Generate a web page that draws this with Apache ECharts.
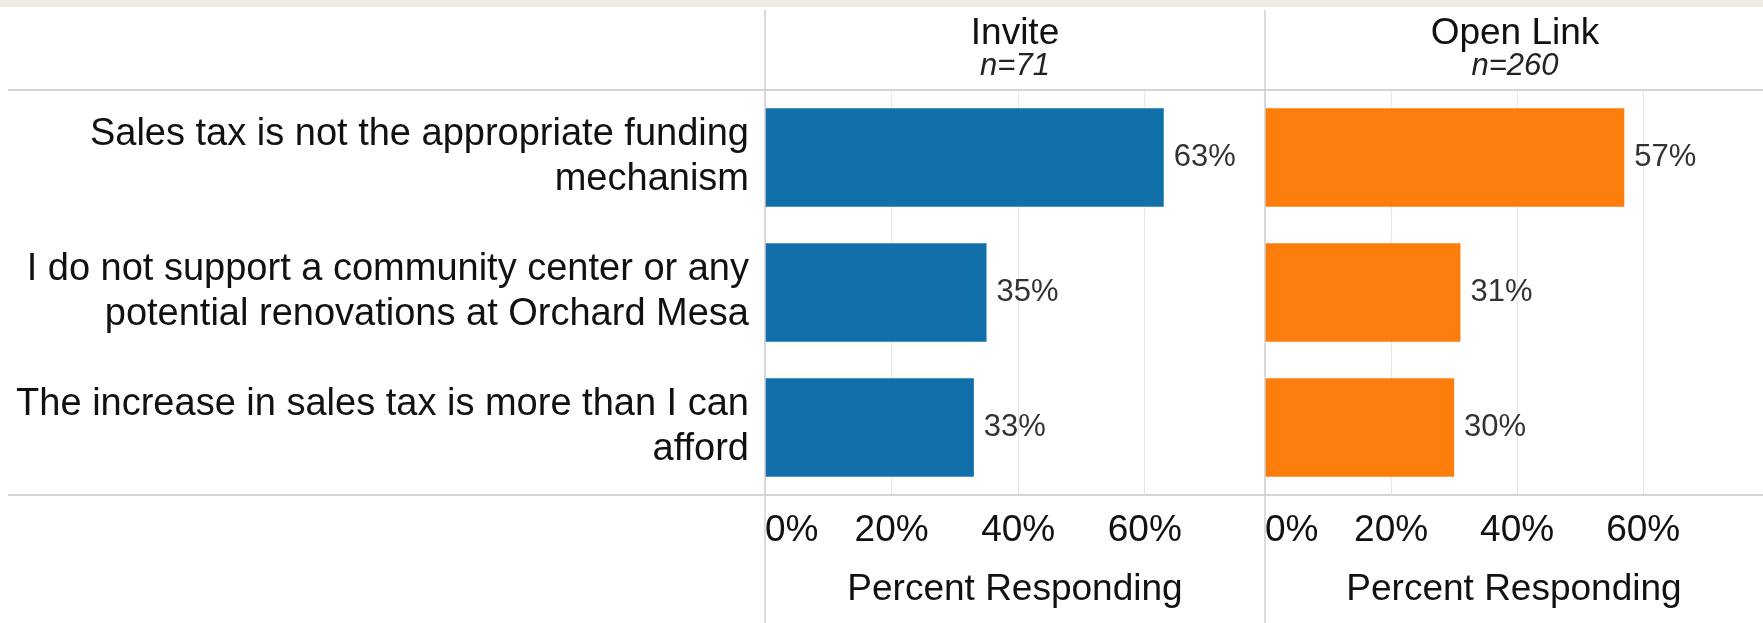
<!DOCTYPE html>
<html>
<head>
<meta charset="utf-8">
<script src="https://cdn.jsdelivr.net/npm/echarts@6/dist/echarts.min.js"></script>
<style>
html,body{margin:0;padding:0;background:#fff;}
#chart{width:1763px;height:623px;}
</style>
</head>
<body>
<div id="chart"></div>
<script>
const categories = [
  "Sales tax is not the appropriate funding\nmechanism",
  "I do not support a community center or any\npotential renovations at Orchard Mesa",
  "The increase in sales tax is more than I can\nafford"
];
const panelTitles = ["Invite", "Open Link"];
const panelN = ["n=71", "n=260"];
const inviteValues = [63, 35, 33];
const openLinkValues = [57, 31, 30];
const tickValues = [0, 20, 40, 60];
const axisTitle = "Percent Responding";

const FONT = "'Liberation Sans', Arial, sans-serif";
const chart = echarts.init(document.getElementById('chart'));

const panelLeft = [765, 1265];
const panelWidth = 500;
const plotTop = 90, plotHeight = 405;

function xAxisFor(i) {
  return {
    type: 'value', gridIndex: i, min: 0, max: 79, interval: 20,
    axisLine: {show: false}, axisTick: {show: false},
    splitLine: {show: true, lineStyle: {color: '#e6e6e6', width: 1}},
    axisLabel: {
      fontSize: 37, fontFamily: FONT, color: '#111', margin: 17,
      showMaxLabel: false, alignMinLabel: 'left',
      formatter: v => tickValues.indexOf(v) >= 0 ? v + '%' : ''
    },
    name: axisTitle, nameLocation: 'middle', nameGap: 76,
    nameTextStyle: {fontSize: 37, fontFamily: FONT, color: '#111'}
  };
}

const option = {
  backgroundColor: '#ffffff',
  animation: false,
  grid: panelLeft.map(l => ({left: l, width: panelWidth, top: plotTop, height: plotHeight, containLabel: false})),
  xAxis: [xAxisFor(0), xAxisFor(1)],
  yAxis: [
    {
      type: 'category', gridIndex: 0, data: categories, inverse: true,
      axisLine: {show: false}, axisTick: {show: false}, splitLine: {show: false},
      axisLabel: {fontSize: 38, lineHeight: 45, fontFamily: FONT, color: '#111', margin: 16, align: 'right'}
    },
    {
      type: 'category', gridIndex: 1, data: categories, inverse: true,
      axisLine: {show: false}, axisTick: {show: false}, splitLine: {show: false},
      axisLabel: {show: false}
    }
  ],
  series: [
    {
      type: 'bar', xAxisIndex: 0, yAxisIndex: 0, data: inviteValues,
      barCategoryGap: '27%', itemStyle: {color: '#1170aa'},
      label: {show: true, position: 'right', distance: 10, formatter: '{c}%', fontSize: 31, fontFamily: FONT, color: '#333'}
    },
    {
      type: 'bar', xAxisIndex: 1, yAxisIndex: 1, data: openLinkValues,
      barCategoryGap: '27%', itemStyle: {color: '#fc7d0b'},
      label: {show: true, position: 'right', distance: 10, formatter: '{c}%', fontSize: 31, fontFamily: FONT, color: '#333'}
    }
  ],
  graphic: [
    {type: 'rect', shape: {x: 0, y: 0, width: 1763, height: 7}, style: {fill: '#f1ecdf'}, z: 10},
    {type: 'line', shape: {x1: 8, y1: 90, x2: 1763, y2: 90}, style: {stroke: '#d4d4d4', lineWidth: 2}, z: 10},
    {type: 'line', shape: {x1: 8, y1: 495, x2: 1763, y2: 495}, style: {stroke: '#d4d4d4', lineWidth: 2}, z: 10},
    {type: 'line', shape: {x1: 765, y1: 10, x2: 765, y2: 623}, style: {stroke: '#cfcfcf', lineWidth: 1.5}, z: 10},
    {type: 'line', shape: {x1: 1265, y1: 10, x2: 1265, y2: 623}, style: {stroke: '#cfcfcf', lineWidth: 1.5}, z: 10},
    {type: 'text', x: 1015, y: 34, style: {text: panelTitles[0], align: 'center', verticalAlign: 'middle', fontSize: 37, fontFamily: FONT, fill: '#111'}, z: 10},
    {type: 'text', x: 1015, y: 66, style: {text: panelN[0], align: 'center', verticalAlign: 'middle', fontSize: 31, fontStyle: 'italic', fontFamily: FONT, fill: '#222'}, z: 10},
    {type: 'text', x: 1515, y: 34, style: {text: panelTitles[1], align: 'center', verticalAlign: 'middle', fontSize: 37, fontFamily: FONT, fill: '#111'}, z: 10},
    {type: 'text', x: 1515, y: 66, style: {text: panelN[1], align: 'center', verticalAlign: 'middle', fontSize: 31, fontStyle: 'italic', fontFamily: FONT, fill: '#222'}, z: 10}
  ]
};
chart.setOption(option);
</script>
</body>
</html>
